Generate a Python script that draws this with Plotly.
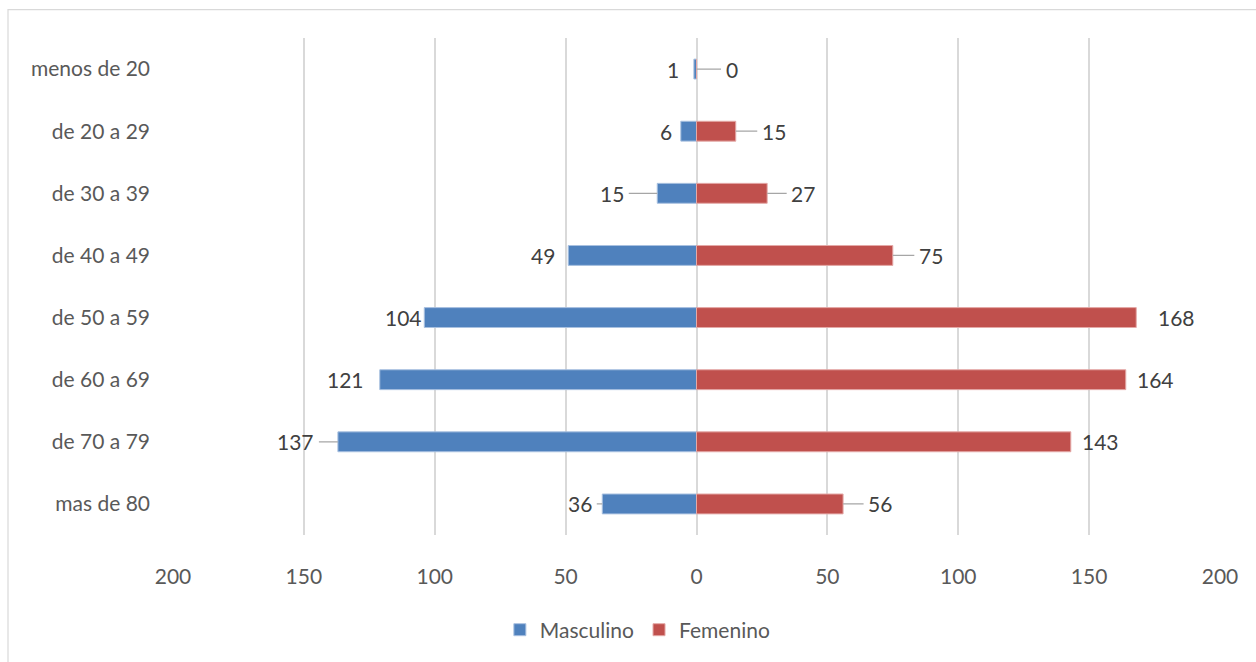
import plotly.graph_objects as go

categories = ["menos de 20", "de 20 a 29", "de 30 a 39", "de 40 a 49",
              "de 50 a 59", "de 60 a 69", "de 70 a 79", "mas de 80"]
masculino = [1, 6, 15, 49, 104, 121, 137, 36]
femenino = [0, 15, 27, 75, 168, 164, 143, 56]
tick_values = [-200, -150, -100, -50, 0, 50, 100, 150, 200]
tick_labels = ["200", "150", "100", "50", "0", "50", "100", "150", "200"]

# label placement style (pixel offset of label centre from bar end, leader line flag)
m_offsets = [-21, -15, -45, -25, -21, -34, -42, -22]
m_lines = [False, False, True, False, False, False, True, True]
f_offsets = [35, 38, 36, 38, 40, 30, 30, 37]
f_lines = [True, True, True, True, False, False, False, True]

BLUE = "#4F81BD"
RED = "#C0504D"
FONT = "Lato"
FS = 21

W, H = 1256, 662
L, R, T, B = 173, 36, 38, 116

fig = go.Figure()
fig.add_trace(go.Bar(y=categories, x=[-v for v in masculino], orientation="h",
                     name="Masculino", marker=dict(color=BLUE, line=dict(color="#A9C1E0", width=1)),
                     width=0.32, hoverinfo="skip"))
fig.add_trace(go.Bar(y=categories, x=femenino, orientation="h",
                     name="Femenino", marker=dict(color=RED, line=dict(color="#E4A9A7", width=1)),
                     width=0.32, hoverinfo="skip"))

for i, c in enumerate(categories):
    fig.add_annotation(x=-masculino[i], y=c, text=str(masculino[i]),
                       showarrow=m_lines[i], ax=m_offsets[i], ay=0, arrowhead=0,
                       arrowwidth=1.3, arrowcolor="#A6A6A6", standoff=0, borderpad=4,
                       xshift=0 if m_lines[i] else m_offsets[i],
                       font=dict(family=FONT, size=FS, color="#404040"))
    fig.add_annotation(x=femenino[i], y=c, text=str(femenino[i]),
                       showarrow=f_lines[i], ax=f_offsets[i], ay=0, arrowhead=0,
                       arrowwidth=1.3, arrowcolor="#A6A6A6", standoff=0, borderpad=4,
                       xshift=0 if f_lines[i] else f_offsets[i],
                       font=dict(family=FONT, size=FS, color="#404040"))

pw = W - L - R
ph = H - T - B
x0 = (8 - L) / pw
x1 = (W + 20 - L) / pw
y1 = (H - B - 9) / ph
y0 = (H - B - (H + 20)) / ph
fig.add_shape(type="rect", xref="paper", yref="paper", x0=x0, x1=x1, y0=y0, y1=y1,
              line=dict(color="#D9D9D9", width=1.2), layer="below")

fig.update_layout(
    width=W, height=H,
    margin=dict(l=L, r=R, t=T, b=B),
    barmode="overlay",
    paper_bgcolor="white", plot_bgcolor="white",
    font=dict(family=FONT, size=FS, color="#595959"),
    showlegend=True,
    legend=dict(orientation="h", x=0.444, xanchor="center", y=-0.15, yanchor="top",
                font=dict(family=FONT, size=FS, color="#595959"),
                itemwidth=30, traceorder="normal"),
    xaxis=dict(range=[-200, 200], tickvals=tick_values, ticktext=tick_labels,
               showgrid=True, gridcolor="#D9D9D9", gridwidth=1.5,
               zeroline=True, zerolinecolor="#D9D9D9", zerolinewidth=1.5,
               showline=False, ticks="", ticklabelstandoff=27, fixedrange=True),
    yaxis=dict(autorange="reversed", showgrid=False, zeroline=False, showline=False,
               ticks="", ticklabelstandoff=22, fixedrange=True),
)

fig.write_html("out.html")
